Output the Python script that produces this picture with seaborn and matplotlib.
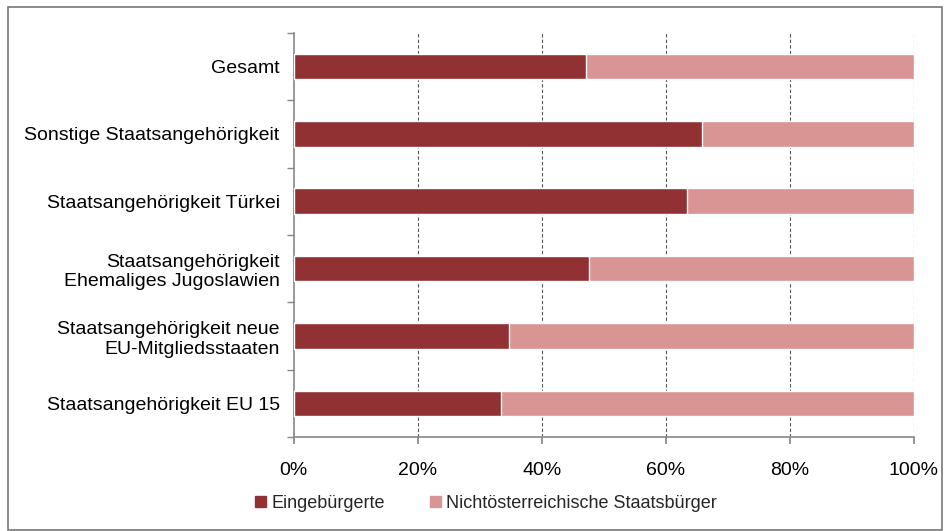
import numpy as np
import pandas as pd
import seaborn as sns
from matplotlib import pyplot as plt
from matplotlib.patches import Rectangle, Patch

categories = ['Gesamt',
              'Sonstige Staatsangehörigkeit',
              'Staatsangehörigkeit Türkei',
              'Staatsangehörigkeit\nEhemaliges Jugoslawien',
              'Staatsangehörigkeit neue\nEU-Mitgliedsstaaten',
              'Staatsangehörigkeit EU 15']
eingebuergerte = [47.1, 65.8, 63.5, 47.6, 34.8, 33.4]
nicht_oesterr = [52.9, 34.2, 36.5, 52.4, 65.2, 66.6]
x_ticks = [0, 20, 40, 60, 80, 100]

dark = '#923133'
light = '#D99594'

sns.set_theme(style='white')
plt.rcParams['font.family'] = ['Liberation Sans', 'DejaVu Sans']

df = pd.DataFrame({'Kategorie': categories,
                   'Eingebürgerte': eingebuergerte,
                   'Gesamt': np.array(eingebuergerte) + np.array(nicht_oesterr)})

fig = plt.figure(figsize=(9.44, 5.31), dpi=100)
ax = fig.add_axes([0.311, 0.177, 0.657, 0.761])

sns.barplot(data=df, y='Kategorie', x='Gesamt', color=light, width=0.38,
            saturation=1, ax=ax, zorder=3)
sns.barplot(data=df, y='Kategorie', x='Eingebürgerte', color=dark, width=0.38,
            saturation=1, ax=ax, zorder=4)

ax.set_xlim(0, 100)
ax.set_ylim(len(categories) - 0.5, -0.5)
ax.set_xticks(x_ticks)
ax.set_xticklabels([f'{t}%' for t in x_ticks])
ax.set_xlabel('')
ax.set_ylabel('')

for t in x_ticks[1:]:
    ax.axvline(t, color='#555555', lw=0.8, ls=(0, (3, 2)), zorder=2)

for s in ['top', 'right']:
    ax.spines[s].set_visible(False)
for s in ['left', 'bottom']:
    ax.spines[s].set_color('#888888')
    ax.spines[s].set_linewidth(1.2)

ax.set_yticks(range(len(categories)))
ax.set_yticklabels(categories, ha='right', multialignment='right')
ax.set_yticks(np.arange(-0.5, len(categories)), minor=True)
ax.tick_params(axis='y', which='major', length=0, labelsize=14, pad=10, colors='black')
ax.tick_params(axis='y', which='minor', length=5, color='#888888', direction='out', left=True)
ax.tick_params(axis='x', which='major', length=5, color='#888888', direction='out',
               bottom=True, labelsize=14, pad=13, colors='black')
for lab in ax.get_xticklabels():
    lab.set_color('black')

handles = [Patch(color=dark, label='Eingebürgerte'),
           Patch(color=light, label='Nichtösterreichische Staatsbürger')]
fig.legend(handles=handles, loc='center', bbox_to_anchor=(0.515, 0.052), ncol=2,
           frameon=False, fontsize=13, handlelength=0.6, handleheight=0.6,
           handletextpad=0.3, columnspacing=2.5)

fig.patches.append(Rectangle((0.008, 0.002), 0.99, 0.984, transform=fig.transFigure,
                             fill=False, edgecolor='#777777', lw=1.2))

fig.savefig('out.png', dpi=100)
